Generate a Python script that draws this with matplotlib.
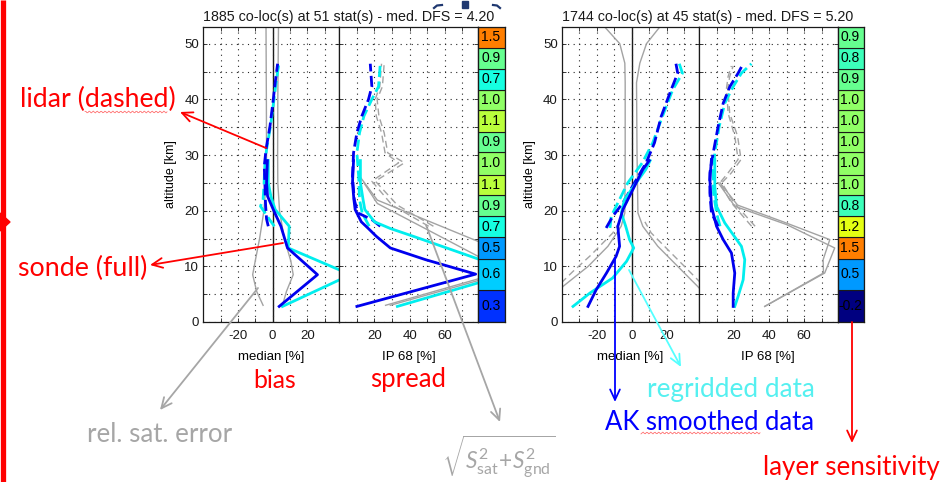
import numpy as np
import matplotlib
matplotlib.use('Agg')
import matplotlib.pyplot as plt
from matplotlib import colors as mcolors
from matplotlib.patches import Rectangle, Polygon

# ------------------------------------------------------------------ data
layer_edges = [0.0, 5.7, 11.4, 15.2, 19.0, 22.8, 26.5, 30.5, 34.2, 38.0, 41.7, 45.5, 49.3, 53.0]
left_sens = [0.3, 0.6, 0.5, 0.7, 0.9, 1.1, 1.0, 0.9, 1.1, 1.0, 0.7, 0.9, 1.5]
right_sens = [-0.2, 0.5, 1.5, 1.2, 0.8, 1.0, 1.0, 1.0, 1.0, 1.0, 0.9, 0.8, 0.9]
left_title = '1885 co-loc(s) at 51 stat(s) - med. DFS = 4.20'
right_title = '1744 co-loc(s) at 45 stat(s) - med. DFS = 5.20'

med_ticks = [-30, -20, -10, 0, 10, 20, 30]
med_labels = ['', '-20', '', '0', '', '20', '']
ip_ticks = [10, 20, 30, 40, 50, 60, 70]
ip_labels = ['', '20', '', '40', '', '60', '']
alt_ticks = [0, 5, 10, 15, 20, 25, 30, 35, 40, 45, 50]
alt_labels = ['0', '', '10', '', '20', '', '30', '', '40', '', '50']

# --- left group : median panel
L_err_alt = [3.0, 5.5, 8.5, 11.0, 15.0, 20.0, 25.0, 30.0, 40.0, 53.0]
L_err_neg = [-5.5, -9.2, -11.5, -10.0, -7.5, -5.0, -3.8, -3.5, -3.6, -3.8]
L_err_pos = [5.7, 8.0, 11.9, 10.5, 6.7, 4.0, 3.0, 2.9, 3.0, 3.4]
L_lid_alt = [17.2, 18.5, 20.8, 22.0, 24.4, 28.0, 31.0, 35.2, 40.0, 43.0, 46.4]
L_lid_ak = [-2.5, -3.5, -4.0, -4.2, -4.4, -4.8, -3.8, -1.5, 0.4, 1.5, 2.9]
L_lid_rg = [1.0, -2.0, -7.0, -5.5, -5.0, -4.5, -3.5, -1.2, 0.8, 2.0, 3.6]
L_son_alt = [2.8, 8.5, 13.3, 17.2, 20.2, 22.6, 25.0, 29.0]
L_son_ak = [3.8, 25.9, 8.6, 4.8, 0.4, -2.9, -3.5, -3.0]
L_son_rg = [5.7, 45.0, 9.0, 9.6, 1.5, -1.0, -2.5, -2.5]

# --- left group : IP68 panel
L_lidip_alt = [17.2, 18.4, 19.6, 22.0, 26.2, 30.4, 34.0, 37.0, 40.0, 42.3, 46.4]
L_lidip_ak = [23.3, 18.5, 10.5, 8.5, 7.5, 8.1, 10.0, 12.8, 16.6, 18.5, 17.6]
L_lidip_rg = [17.0, 15.0, 13.0, 11.5, 11.0, 10.0, 11.5, 14.0, 18.5, 22.3, 23.3]
L_sonip_alt = [2.8, 8.6, 11.2, 13.3, 15.4, 16.8, 18.0, 20.2, 22.0, 25.0, 29.0]
L_sonip_ak = [10.0, 77.5, 49.0, 29.0, 21.0, 16.5, 12.5, 9.0, 8.3, 7.5, 8.1]
L_sonip_rg = [33.0, 96.0, 80.0, 61.0, 42.0, 29.0, 20.0, 14.5, 13.5, 12.0, 12.0]
L_gl_alt = [17.2, 21.0, 25.3, 28.6, 30.4, 34.0, 37.0, 40.0, 42.3, 46.4]
L_gl_1 = [50.8, 30.0, 18.5, 33.7, 26.0, 24.0, 21.0, 20.4, 23.0, 24.0]
L_gl_2 = [53.5, 33.0, 20.5, 37.0, 27.5, 25.5, 22.5, 21.5, 24.5, 25.5]
L_gs_alt1 = [3.0, 7.8, 10.5, 14.4, 21.9, 26.0]
L_gs_1 = [26.3, 79.5, 110.0, 79.5, 21.6, 12.0]
L_gs_alt2 = [3.0, 7.5, 9.0, 11.7, 21.3, 25.0]
L_gs_2 = [29.0, 79.5, 96.0, 79.5, 21.6, 14.0]

# --- right group : median panel
R_err_alt = [3.0, 6.4, 10.0, 13.6, 17.2, 19.6, 30.0, 43.0, 46.5, 50.0, 53.0]
R_err_neg = [-48.0, -39.4, -25.0, -13.7, -6.1, -4.0, -3.8, -3.8, -4.0, -6.9, -15.5]
R_err_pos = [48.0, 37.7, 26.3, 14.9, 6.3, 3.5, 3.0, 2.7, 4.6, 8.4, 16.0]
R_errd_alt = [7.0, 9.0, 12.0, 16.0, 18.0]
R_errd_neg = [-40.5, -34.0, -23.5, -10.9, -7.0]
R_errd_pos = [39.6, 33.3, 23.8, 11.1, 7.5]
R_lid_alt = [16.9, 19.0, 21.4, 25.0, 28.6, 32.2, 36.9, 41.7, 44.7, 46.4]
R_lid_ak = [-14.7, -10.9, -5.1, 1.5, 8.2, 13.0, 16.8, 22.5, 26.3, 25.3]
R_lid_rg = [-12.5, -11.8, -8.0, -2.3, 6.0, 12.0, 17.5, 23.4, 29.0, 27.2]
R_son_alt = [2.8, 5.8, 8.8, 11.8, 13.6, 17.2, 20.2, 23.8, 27.4, 29.0]
R_son_ak = [-25.1, -20.4, -14.5, -9.0, -7.0, -8.0, -5.1, 0.6, 6.3, 10.0]
R_son_rg_alt = [2.8, 5.2, 7.9, 10.9, 13.3, 14.8, 17.2, 19.6, 22.0, 25.0, 27.4, 29.0]
R_son_rg = [-33.7, -24.0, -11.0, -3.0, 1.1, -1.3, -3.5, -6.0, -4.2, 2.5, 8.0, 10.5]

# --- right group : IP68 panel
R_lidip_alt = [17.2, 19.6, 23.2, 26.8, 30.4, 35.1, 39.3, 42.3, 44.7, 46.4]
R_lidip_ak = [10.9, 7.1, 6.2, 6.2, 8.1, 10.9, 13.8, 17.6, 22.3, 25.2]
R_lidip_rg = [12.0, 10.0, 8.3, 8.1, 9.0, 11.5, 14.7, 19.5, 24.2, 29.9]
R_sonip_alt = [2.8, 5.2, 8.8, 12.4, 14.8, 17.2, 20.8, 25.6, 29.2]
R_sonip_ak = [19.5, 19.5, 20.4, 18.5, 13.8, 10.0, 7.1, 6.2, 7.1]
R_sonip_rg_alt = [2.8, 4.6, 7.6, 11.2, 13.6, 17.8, 20.8, 24.4, 29.2]
R_sonip_rg = [20.4, 22.3, 25.2, 26.1, 24.2, 14.7, 10.0, 9.0, 9.0]
R_gl_alt = [17.2, 21.4, 25.0, 26.8, 29.2, 33.4, 37.5, 42.0, 44.1, 46.0]
R_gl_1 = [30.0, 18.5, 11.9, 16.6, 22.3, 20.4, 16.6, 15.7, 16.6, 18.5]
R_gl_2 = [32.0, 20.0, 13.0, 18.5, 24.0, 22.0, 17.5, 16.5, 17.5, 19.5]
R_gs_alt1 = [2.8, 8.8, 13.3, 17.5, 20.8, 25.0]
R_gs_1 = [37.5, 71.7, 77.4, 50.0, 20.4, 11.0]
R_gs_alt2 = [2.8, 8.8, 11.2, 14.8, 18.0, 21.0, 25.0]
R_gs_2 = [37.5, 71.0, 70.8, 74.6, 48.0, 22.0, 12.0]

# ------------------------------------------------------------------ style
BLUE = '#0000ee'
CYAN = '#00eeee'
GRAY = '#a3a3a3'
GRID = '#262626'
LW = 2.0
DASH = (0, (4, 1.6))

plt.rcParams['font.family'] = ['Liberation Sans', 'DejaVu Sans']
plt.rcParams['mathtext.fontset'] = 'custom'
plt.rcParams['mathtext.rm'] = 'Lato'
plt.rcParams['mathtext.it'] = 'Lato:italic'
plt.rcParams['mathtext.bf'] = 'Lato:bold'

W, H = 952, 482
fig = plt.figure(figsize=(W / 100, H / 100), dpi=100)
Y_TOP, Y_BOT = 27, 322


def rect(x0, x1):
    return [x0 / W, 1 - Y_BOT / H, (x1 - x0) / W, (Y_BOT - Y_TOP) / H]


def style(ax, xticks, xlabels, xlim, show_y):
    ax.set_xlim(*xlim)
    ax.set_ylim(0, 53)
    ax.set_xticks(xticks)
    ax.set_xticklabels(xlabels)
    ax.set_yticks(alt_ticks)
    ax.set_yticklabels(alt_labels if show_y else [''] * len(alt_ticks))
    ax.grid(True, color=GRID, linestyle=(0, (1, 4)), linewidth=0.8)
    ax.tick_params(direction='in', length=3, width=0.6, top=True, right=True,
                   labelsize=9.5, colors='#1a1a1a')
    ax.tick_params(axis='x', pad=5.5)
    ax.tick_params(axis='y', pad=3)
    for s in ax.spines.values():
        s.set_linewidth(0.9)
        s.set_color('#1a1a1a')


def colorbar(ax, vals):
    cmap = plt.get_cmap('jet')
    norm = mcolors.Normalize(-0.05, 1.95)
    e = np.array(layer_edges)
    ax.bar(0.5, np.diff(e), bottom=e[:-1], width=1.0, color=cmap(norm(np.array(vals))),
           edgecolor='#1a1a1a', linewidth=0.8)
    for lo, hi, v in zip(e[:-1], e[1:], vals):
        ax.text(0.47, (lo + hi) / 2, f'{v:.1f}', ha='center', va='center',
                fontsize=10, color='black')
    ax.set_xlim(0, 1)
    ax.set_ylim(0, 53)
    ax.set_xticks([])
    ax.set_yticks([])
    for s in ax.spines.values():
        s.set_linewidth(0.9)
        s.set_color('#1a1a1a')


def group(xm0, xm1, xi1, xc1, title, sens, med, ip):
    axm = fig.add_axes(rect(xm0, xm1))
    axi = fig.add_axes(rect(xm1, xi1))
    axc = fig.add_axes(rect(xi1, xc1))
    style(axm, med_ticks, med_labels, (-40, 38.5), True)
    style(axi, ip_ticks, ip_labels, (0, 79), False)
    axm.axvline(0, color='#1a1a1a', lw=1.0, zorder=1.5)
    axm.set_ylabel('altitude [km]', fontsize=9, labelpad=5)
    axm.set_xlabel('median [%]', fontsize=9.5, labelpad=6.5)
    axi.set_xlabel('IP 68 [%]', fontsize=9.5, labelpad=6.5)

    # median panel
    axm.plot(med['err_neg'], med['err_alt'], color=GRAY, lw=1.0)
    axm.plot(med['err_pos'], med['err_alt'], color=GRAY, lw=1.0)
    if med.get('errd_alt') is not None:
        axm.plot(med['errd_neg'], med['errd_alt'], color=GRAY, lw=1.0, linestyle=(0, (5, 3)))
        axm.plot(med['errd_pos'], med['errd_alt'], color=GRAY, lw=1.0, linestyle=(0, (5, 3)))
    axm.plot(med['lid_rg'], med['lid_alt'], color=CYAN, lw=LW, linestyle=DASH)
    axm.plot(med['lid_ak'], med['lid_alt'], color=BLUE, lw=LW, linestyle=DASH)
    axm.plot(med['son_rg'], med['son_rg_alt'], color=CYAN, lw=LW)
    axm.plot(med['son_ak'], med['son_alt'], color=BLUE, lw=LW)

    # IP68 panel
    axi.plot(ip['gl_1'], ip['gl_alt'], color=GRAY, lw=1.0, linestyle=(0, (5, 3)))
    axi.plot(ip['gl_2'], ip['gl_alt'], color=GRAY, lw=1.0, linestyle=(0, (5, 3)))
    axi.plot(ip['gs_1'], ip['gs_alt1'], color=GRAY, lw=1.0)
    axi.plot(ip['gs_2'], ip['gs_alt2'], color=GRAY, lw=1.0)
    axi.plot(ip['lid_rg'], ip['lid_alt'], color=CYAN, lw=LW, linestyle=DASH)
    axi.plot(ip['lid_ak'], ip['lid_alt'], color=BLUE, lw=LW, linestyle=DASH)
    axi.plot(ip['son_rg'], ip['son_rg_alt'], color=CYAN, lw=LW)
    axi.plot(ip['son_ak'], ip['son_alt'], color=BLUE, lw=LW)

    colorbar(axc, sens)
    t = fig.text(xm0 / W, 1 - 17 / H, title, ha='left', va='center', fontsize=10.2,
                 color='#1a1a1a')
    return t


t1 = group(203.3, 339.3, 478.3, 505.0, left_title, left_sens,
           dict(err_alt=L_err_alt, err_neg=L_err_neg, err_pos=L_err_pos, errd_alt=None,
                lid_alt=L_lid_alt, lid_ak=L_lid_ak, lid_rg=L_lid_rg,
                son_alt=L_son_alt, son_ak=L_son_ak, son_rg_alt=L_son_alt, son_rg=L_son_rg),
           dict(gl_alt=L_gl_alt, gl_1=L_gl_1, gl_2=L_gl_2,
                gs_alt1=L_gs_alt1, gs_1=L_gs_1, gs_alt2=L_gs_alt2, gs_2=L_gs_2,
                lid_alt=L_lidip_alt, lid_ak=L_lidip_ak, lid_rg=L_lidip_rg,
                son_alt=L_sonip_alt, son_ak=L_sonip_ak, son_rg_alt=L_sonip_alt, son_rg=L_sonip_rg))

t2 = group(562.0, 699.0, 837.5, 864.0, right_title, right_sens,
           dict(err_alt=R_err_alt, err_neg=R_err_neg, err_pos=R_err_pos,
                errd_alt=R_errd_alt, errd_neg=R_errd_neg, errd_pos=R_errd_pos,
                lid_alt=R_lid_alt, lid_ak=R_lid_ak, lid_rg=R_lid_rg,
                son_alt=R_son_alt, son_ak=R_son_ak, son_rg_alt=R_son_rg_alt, son_rg=R_son_rg),
           dict(gl_alt=R_gl_alt, gl_1=R_gl_1, gl_2=R_gl_2,
                gs_alt1=R_gs_alt1, gs_1=R_gs_1, gs_alt2=R_gs_alt2, gs_2=R_gs_2,
                lid_alt=R_lidip_alt, lid_ak=R_lidip_ak, lid_rg=R_lidip_rg,
                son_alt=R_sonip_alt, son_ak=R_sonip_ak, son_rg_alt=R_sonip_rg_alt, son_rg=R_sonip_rg))

# ------------------------------------------------------------------ annotation overlay (pixel coords)
ov = fig.add_axes([0, 0, 1, 1], zorder=20)
ov.set_xlim(0, W)
ov.set_ylim(H, 0)
ov.axis('off')
ov.patch.set_visible(False)

RED = '#ff0000'
GRAYA = '#a6a6a6'


def arrow(p0, p1, color, lw=1.3):
    ov.annotate('', xy=p1, xytext=p0,
                arrowprops=dict(arrowstyle='->,head_length=0.75,head_width=0.35', color=color,
                                lw=lw, shrinkA=0, shrinkB=0, mutation_scale=10))


arrow((266, 148), (180, 112), RED)
arrow((283, 243), (150, 265), RED)
arrow((258, 288), (160, 410), GRAYA)
arrow((426, 225), (500, 422), GRAYA)
arrow((615, 258), (615, 402), '#0000ff')
arrow((629, 270), (681, 367), '#55ffff')
arrow((852, 322), (852, 443), RED)

# left slide edge
ov.plot([2.5, 2.5], [0, H], color=RED, lw=3.8, solid_capstyle='butt')
ov.add_patch(Polygon([[0, 213], [10, 222], [0, 231]], closed=True, color=RED))
# small artefacts at the top
ov.add_patch(Rectangle((462, 1), 6, 7, color='#1f3870'))
ov.plot([434, 437, 442], [8, 5.5, 5], color='#1f3870', lw=1.6)
ov.plot([493, 497, 500], [5, 5.5, 8], color='#1f3870', lw=1.6)

ann = []


def label(x, y, s, color, width):
    t = ov.text(x, y, s, color=color, fontsize=18, family='Lato', ha='left', va='center')
    ann.append((t, width))
    return t


label(20, 99, 'lidar (dashed)', RED, 155)
label(18, 268, 'sonde (full)', RED, 129)
label(253, 380, 'bias', RED, 43)
label(370, 380, 'spread', RED, 76)
label(87, 435, 'rel. sat. error', GRAYA, 145)
label(647, 390, 'regridded data', '#55f0f0', 167)
label(605, 422, 'AK smoothed data', '#0000ff', 209)
label(763, 468, 'layer sensitivity', RED, 176)
sq = ov.text(442, 457, r'$\sqrt{S^{2}_{\mathrm{sat}}\!+\!S^{2}_{\mathrm{gnd}}}$', color=GRAYA,
             fontsize=16, ha='left', va='center')
ann.append((sq, 112))
ann.append((t1, 290))
ann.append((t2, 290))

fig.canvas.draw()
r = fig.canvas.get_renderer()
for t, w in ann:
    cur = t.get_window_extent(r).width
    t.set_fontsize(t.get_fontsize() * w / cur)

# spell-check squiggles
xs = np.linspace(85, 167, 80)
ov.plot(xs, 112 + 0.9 * np.sin(xs * 1.6), color='#ff7070', lw=0.6)
xs = np.linspace(641, 760, 110)
ov.plot(xs, 433 + 0.9 * np.sin(xs * 1.6), color='#ff7070', lw=0.6)

fig.savefig('out.png', dpi=100)
